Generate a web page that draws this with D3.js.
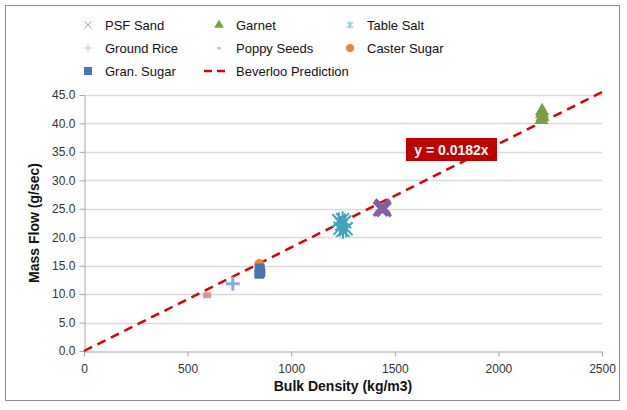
<!DOCTYPE html>
<html>
<head>
<meta charset="utf-8">
<script src="https://cdn.jsdelivr.net/npm/d3@7"></script>
<style>
  body { margin: 0; background: #fff; }
  svg { font-family: "Liberation Sans", Arial, sans-serif; }
</style>
</head>
<body>
<svg id="chart" width="627" height="410"></svg>
<script>
// Measured mass flow vs bulk density, one array per material
const psfSand     = [[1432, 25.0], [1440, 25.4], [1447, 24.9], [1443, 25.2]];
const garnet      = [[2208, 40.6], [2212, 41.1], [2210, 41.7], [2211, 42.2]];
const tableSalt   = [[1230, 22.9], [1250, 21.2], [1244, 22.3], [1265, 21.5], [1236, 21.6], [1258, 22.7], [1248, 23.1]];
const groundRice  = [[718, 11.8]];
const poppySeeds  = [[594, 9.8]];
const casterSugar = [[846, 15.3]];
const granSugar   = [[846, 13.6], [850, 14.0], [848, 14.5], [851, 13.8]];

// Beverloo prediction slope
const beverlooSlope = 0.0182;
const xTicks = [0, 500, 1000, 1500, 2000, 2500];
const yTicks = [0, 5, 10, 15, 20, 25, 30, 35, 40, 45];

const svg = d3.select("#chart");

// outer frame
svg.append("rect").attr("x", 5.5).attr("y", 5.5).attr("width", 614).attr("height", 395)
  .attr("fill", "#fff").attr("stroke", "#8c8c8c").attr("stroke-width", 1);

const plotLeft = 84, plotRight = 602, plotTop = 95, plotBottom = 351;
const x = d3.scaleLinear().domain([0, 2500]).range([plotLeft, plotRight]);
const y = d3.scaleLinear().domain([0, 45]).range([plotBottom, plotTop]);

// gridlines
svg.append("g").selectAll("line").data(yTicks.filter(d => d > 0)).join("line")
  .attr("x1", plotLeft).attr("x2", plotRight)
  .attr("y1", d => Math.round(y(d)) + 0.5).attr("y2", d => Math.round(y(d)) + 0.5)
  .attr("stroke", "#d9d9d9").attr("stroke-width", 1.3);

// axes
const xAxis = svg.append("g").attr("transform", `translate(0,${plotBottom + 0.5})`)
  .call(d3.axisBottom(x).tickValues(xTicks).tickSize(5).tickSizeOuter(0).tickFormat(d3.format("d")));
const yAxis = svg.append("g").attr("transform", `translate(${plotLeft + 0.5},0)`)
  .call(d3.axisLeft(y).tickValues(yTicks).tickSize(5).tickSizeOuter(0).tickFormat(d3.format(".1f")));
[xAxis, yAxis].forEach(g => {
  g.select(".domain").attr("stroke", "#a6a6a6");
  g.selectAll(".tick line").attr("stroke", "#a6a6a6");
  g.selectAll(".tick text").attr("fill", "#333").attr("font-size", 12)
    .attr("font-family", "Liberation Sans, Arial, sans-serif");
});
xAxis.selectAll(".tick text").attr("dy", "1.1em");
yAxis.selectAll(".tick text").attr("dx", "-0.1em");

// axis titles
svg.append("text").attr("x", (plotLeft + plotRight) / 2).attr("y", 391).attr("text-anchor", "middle")
  .attr("font-size", 14).attr("font-weight", "bold").attr("fill", "#111").text("Bulk Density (kg/m3)");
svg.append("text").attr("transform", `translate(39,${(plotTop + plotBottom) / 2}) rotate(-90)`)
  .attr("text-anchor", "middle").attr("font-size", 14).attr("font-weight", "bold")
  .attr("fill", "#111").text("Mass Flow (g/sec)");

// Beverloo prediction line
svg.append("line")
  .attr("x1", x(0)).attr("y1", y(0))
  .attr("x2", x(2500)).attr("y2", y(beverlooSlope * 2500))
  .attr("stroke", "#e00000").attr("stroke-width", 2.5).attr("stroke-dasharray", "9,6");

// marker drawers
const sym = (type, size) => d3.symbol().type(type).size(size)();
function drawX(g, cx, cy, r, color, w) {
  g.append("path").attr("d", `M${cx - r},${cy - r}L${cx + r},${cy + r}M${cx - r},${cy + r}L${cx + r},${cy - r}`)
    .attr("stroke", color).attr("stroke-width", w).attr("fill", "none");
}
function drawPlus(g, cx, cy, r, color, w) {
  g.append("path").attr("d", `M${cx - r},${cy}L${cx + r},${cy}M${cx},${cy - r}L${cx},${cy + r}`)
    .attr("stroke", color).attr("stroke-width", w).attr("fill", "none");
}
function drawStar(g, cx, cy, r, color, w) {
  g.append("path").attr("d",
    `M${cx - r},${cy - r}L${cx + r},${cy + r}M${cx - r},${cy + r}L${cx + r},${cy - r}M${cx},${cy - r * 1.3}L${cx},${cy + r * 1.3}`)
    .attr("stroke", color).attr("stroke-width", w).attr("fill", "none");
}

// data markers
const mk = svg.append("g");
poppySeeds.forEach(([a, b]) => mk.append("rect").attr("x", x(a) - 4).attr("y", y(b) - 3)
  .attr("width", 8).attr("height", 6).attr("fill", "#d99694"));
groundRice.forEach(([a, b]) => drawPlus(mk, x(a), y(b), 7, "#8eaadb", 3));
casterSugar.forEach(([a, b]) => mk.append("circle").attr("cx", x(a)).attr("cy", y(b)).attr("r", 5)
  .attr("fill", "#e8863a"));
granSugar.forEach(([a, b]) => mk.append("rect").attr("x", x(a) - 5).attr("y", y(b) - 5)
  .attr("width", 10).attr("height", 10).attr("rx", 1.5).attr("fill", "#4a74b0"));
tableSalt.forEach(([a, b]) => drawStar(mk, x(a), y(b), 6.5, "#3fa3bd", 2));
psfSand.forEach(([a, b]) => drawX(mk, x(a), y(b), 7, "#7f60a0", 3.2));
garnet.forEach(([a, b]) => mk.append("path").attr("d", sym(d3.symbolTriangle, 85))
  .attr("transform", `translate(${x(a)},${y(b)})`).attr("fill", "#77a043"));

// equation label
const lx = 406, ly = 138;
svg.append("rect").attr("x", lx).attr("y", ly).attr("width", 91).attr("height", 23).attr("fill", "#c00000");
svg.append("text").attr("x", lx + 45.5).attr("y", ly + 16.5).attr("text-anchor", "middle")
  .attr("font-size", 14).attr("font-weight", "bold").attr("fill", "#fff").text("y = 0.0182x");

// legend
const legendItems = [
  { name: "PSF Sand", col: 0, row: 0, kind: "x" },
  { name: "Garnet", col: 1, row: 0, kind: "tri" },
  { name: "Table Salt", col: 2, row: 0, kind: "star" },
  { name: "Ground Rice", col: 0, row: 1, kind: "plus" },
  { name: "Poppy Seeds", col: 1, row: 1, kind: "dash" },
  { name: "Caster Sugar", col: 2, row: 1, kind: "circle" },
  { name: "Gran. Sugar", col: 0, row: 2, kind: "square" },
  { name: "Beverloo Prediction", col: 1, row: 2, kind: "line" }
];
const colX = [88, 219, 350], rowY = [25, 48, 71];
const lg = svg.append("g");
legendItems.forEach(it => {
  const cx = colX[it.col], cy = rowY[it.row];
  if (it.kind === "x") drawX(lg, cx, cy, 3.5, "#b3a2c7", 1);
  if (it.kind === "tri") lg.append("path").attr("d", sym(d3.symbolTriangle, 40))
    .attr("transform", `translate(${cx},${cy})`).attr("fill", "#77a043");
  if (it.kind === "star") drawStar(lg, cx, cy, 3, "#93cddd", 1.2);
  if (it.kind === "plus") drawPlus(lg, cx, cy, 4, "#b4c7e7", 1);
  if (it.kind === "dash") lg.append("rect").attr("x", cx - 2).attr("y", cy - 1).attr("width", 4).attr("height", 2.5).attr("fill", "#e6b9b8");
  if (it.kind === "circle") lg.append("circle").attr("cx", cx).attr("cy", cy).attr("r", 4).attr("fill", "#e8863a");
  if (it.kind === "square") lg.append("rect").attr("x", cx - 4).attr("y", cy - 4).attr("width", 8).attr("height", 8).attr("fill", "#4a74b0");
  if (it.kind === "line") lg.append("line").attr("x1", cx - 15).attr("x2", cx + 10).attr("y1", cy).attr("y2", cy)
    .attr("stroke", "#e00000").attr("stroke-width", 2.5).attr("stroke-dasharray", "8,5");
  lg.append("text").attr("x", cx + 17).attr("y", cy + 4.5).attr("font-size", 13).attr("fill", "#111").text(it.name);
});
</script>
</body>
</html>
